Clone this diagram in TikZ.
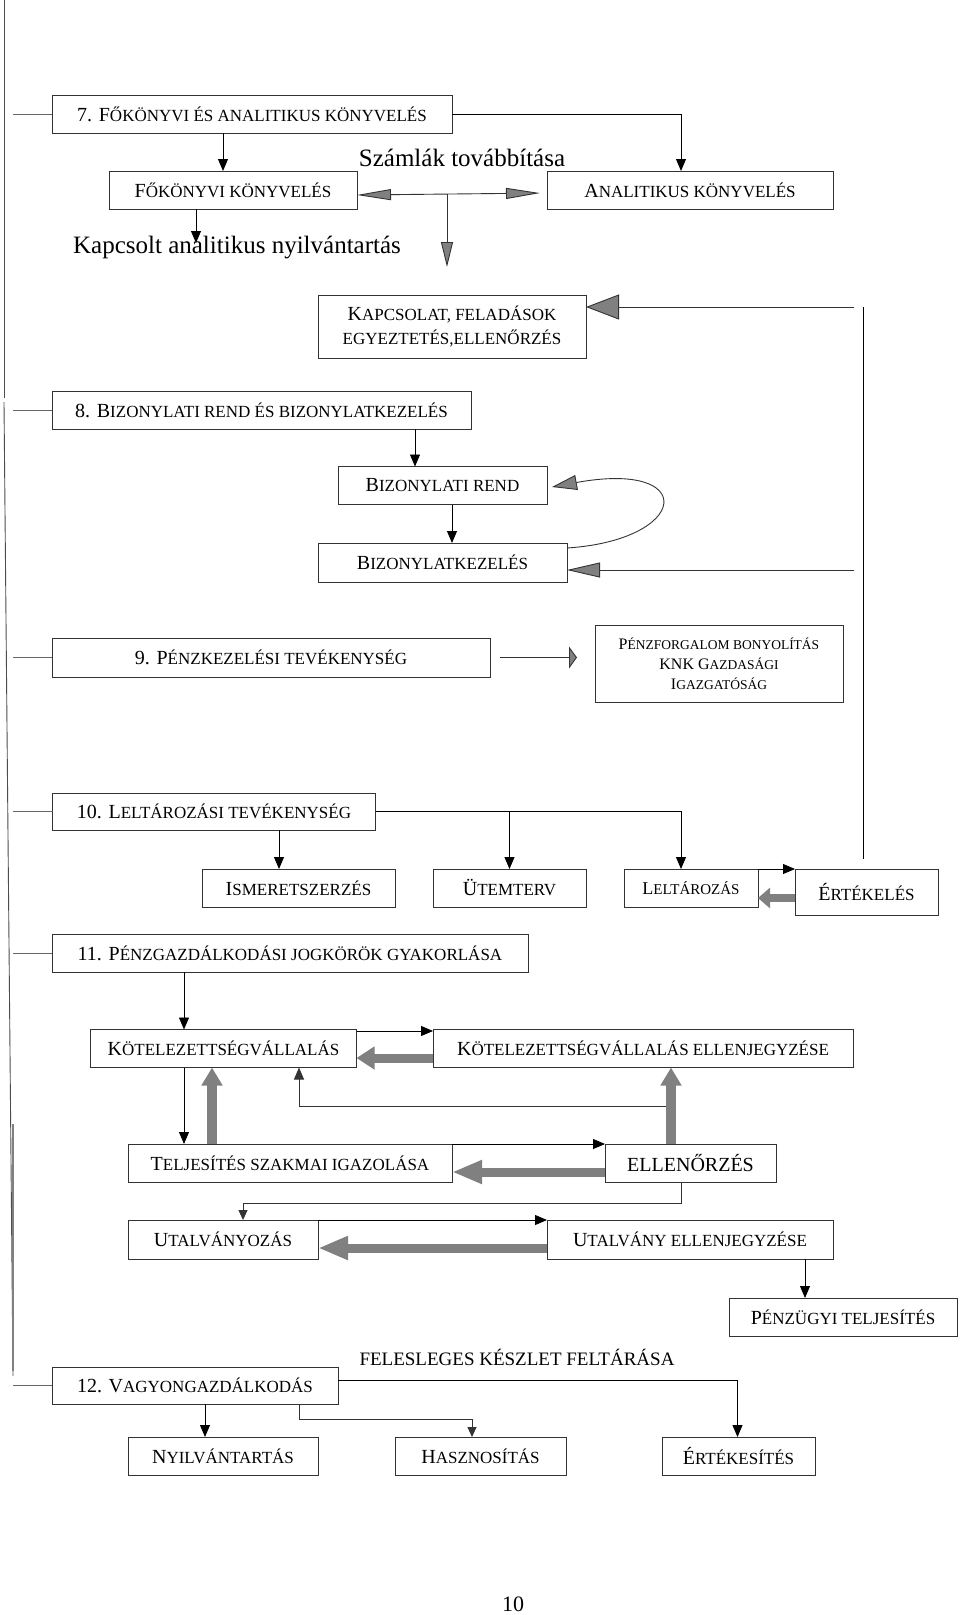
\documentclass[tikz,border=0pt]{standalone}
\usepackage{fontspec}
\setmainfont{Liberation Serif}
\usetikzlibrary{arrows.meta}

\newcommand\bigf{\fontsize{20}{24}\selectfont}
\newcommand\smf{\fontsize{17}{22}\selectfont}
% first letter big, rest as small capitals
\newcommand\capsm[2]{#1{\smf #2}}

\begin{document}
\begin{tikzpicture}[x=1pt, y=-1pt,
    box/.style={draw=black!80, line width=0.9pt, inner sep=0pt, outer sep=0pt, align=center, font=\bigf},
    arr/.style={draw=black, line width=0.9pt, -{Triangle[length=12pt,width=10pt]}},
    grayarr/.style={draw=black!80, line width=0.9pt, -{Triangle[#1,fill=gray]}},
    blockarr/.style={draw=gray, line width=9pt, -{Triangle[#1]}},
    stub/.style={draw=black!60, line width=0.9pt}]
    \useasboundingbox (0,0) rectangle (960,1615);

    %% Left margin line
    \draw [black!70, line width=0.9pt] (4,0) -- (4,398);
    \draw [black!70, line width=0.9pt] (4,402) -- (13,1376);
    \draw [gray, line width=2pt] (13,1124) -- (13,1371);

    %% 7. Fokonyvi es analitikus konyveles
    \node [box, minimum width=400, minimum height=38] (b7) at (252,114) {\capsm{7. F}{ŐKÖNYVI ÉS ANALITIKUS KÖNYVELÉS}};
    \node [box, minimum width=248, minimum height=38] (fokonyv) at (233,190) {\capsm{F}{ŐKÖNYVI KÖNYVELÉS}};
    \node [box, minimum width=286, minimum height=38] (analit) at (690,190) {\capsm{A}{NALITIKUS KÖNYVELÉS}};
    \node [box, minimum width=268, minimum height=63] (kapcs) at (452,326.5) {\capsm{K}{APCSOLAT, FELADÁSOK}\\{\smf EGYEZTETÉS,ELLENŐRZÉS}};
    \node [font=\fontsize{25}{30}\selectfont] (szamlak) at (462,158) {Számlák továbbítása};
    \node [font=\fontsize{25}{30}\selectfont] (kapcsolt) at (237,247) {Kapcsolt analitikus nyilvántartás};
    \coordinate (split) at (447,194);
    \coordinate (kin) at (854,307);
    \coordinate (bin) at (854,570);
    \coordinate (rtop) at (863,307);
    \coordinate (rbot) at (863,859);

    \draw [stub] (13,0 |- b7.west) -- (b7.west);
    \draw [arr] (223,0 |- b7.south) -- (223,0 |- fokonyv.north);
    \draw [arr] (b7.east) -| ([xshift=-9]analit.north);
    \draw [arr] (196,0 |- fokonyv.south) -- ++(0,34);
    \draw [draw=black!80, line width=0.9pt, {Triangle[length=34pt,width=11pt,fill=gray]}-{Triangle[length=34pt,width=11pt,fill=gray]}, shorten >=7pt] ([yshift=-5]fokonyv.east) -- ([yshift=-3]analit.west);
    \draw [grayarr={length=25pt,width=12pt}] (split) -- ++(0,73);
    \draw [grayarr={length=33pt,width=25pt}] (kin) -- (kapcs.east |- kin);
    \draw [line width=0.9pt] (rtop) -- (rbot);

    %% 8. Bizonylati rend
    \node [box, minimum width=419, minimum height=38] (b8) at (261.5,410) {\capsm{8. B}{IZONYLATI REND ÉS BIZONYLATKEZELÉS}};
    \node [box, minimum width=209, minimum height=38] (bizrend) at (442.5,485.5) {\capsm{B}{IZONYLATI REND}};
    \node [box, minimum width=249, minimum height=39] (bizkez) at (442.5,562.5) {\capsm{B}{IZONYLATKEZELÉS}};

    \draw [stub] (13,0 |- b8.west) -- (b8.west);
    \draw [arr] (415,0 |- b8.south) -- (415,0 |- bizrend.north);
    \draw [arr] (452,0 |- bizrend.south) -- (452,0 |- bizkez.north);
    \draw [grayarr={length=25pt,width=15pt}] ([yshift=14.5]bizkez.east) .. controls +(123,-8) and +(147,-27) .. ([xshift=5,yshift=-1.5]bizrend.east);
    \draw [grayarr={length=33pt,width=15pt}] (bin) -- (bizkez.east |- bin);

    %% 9. Penzkezeles
    \node [box, minimum width=438, minimum height=39] (b9) at (271,657.5) {\capsm{9. P}{ÉNZKEZELÉSI TEVÉKENYSÉG}};
    \node [box, minimum width=248, minimum height=77, font=\fontsize{16}{20}\selectfont] (penzforg) at (719,664)
        {P{\fontsize{13.5}{20}\selectfont ÉNZFORGALOM BONYOLÍTÁS}\\KNK G{\fontsize{13.5}{20}\selectfont AZDASÁGI}\\I{\fontsize{13.5}{20}\selectfont GAZGATÓSÁG}};

    \draw [stub] (13,0 |- b9.west) -- (b9.west);
    \draw [grayarr={length=8pt,width=22pt}, shorten <=10pt, shorten >=18pt] (b9.east) -- (penzforg.west |- b9.east);

    %% 10. Leltarozas
    \node [box, minimum width=323, minimum height=37] (b10) at (214,811.5) {\capsm{10. L}{ELTÁROZÁSI TEVÉKENYSÉG}};
    \node [box, minimum width=193, minimum height=38] (ismeret) at (298.5,888) {\capsm{I}{SMERETSZERZÉS}};
    \node [box, minimum width=153, minimum height=38] (utemterv) at (509.5,888) {\capsm{Ü}{TEMTERV}};
    \node [box, minimum width=134, minimum height=38, font=\fontsize{18}{22}\selectfont] (leltar) at (691,888) {L{\fontsize{15}{20}\selectfont ELTÁROZÁS}};
    \node [box, minimum width=143, minimum height=46] (ertekel) at (866.5,892) {\capsm{É}{RTÉKELÉS}};

    \draw [stub] (13,0 |- b10.west) -- (b10.west);
    \draw [arr] (279,0 |- b10.south) -- (279,0 |- ismeret.north);
    \draw [arr] (utemterv.north |- b10.east) -- (utemterv.north);
    \draw [arr] (b10.east) -| ([xshift=-10]leltar.north);
    \draw [arr] (leltar.north east) -- (ertekel.north west);
    \draw [blockarr={length=12pt,width=20pt}, line width=8pt] ([yshift=-6]ertekel.west) -- (leltar.east |- 0,898);

    %% 11. Penzgazdalkodasi jogkorok
    \node [box, minimum width=476, minimum height=38] (b11) at (290,953) {\capsm{11. P}{ÉNZGAZDÁLKODÁSI JOGKÖRÖK GYAKORLÁSA}};
    \node [box, minimum width=266, minimum height=38] (kotel) at (223.5,1048.5) {\capsm{K}{ÖTELEZETTSÉGVÁLLALÁS}};
    \node [box, minimum width=420, minimum height=38] (kotellen) at (643,1048.5) {\capsm{K}{ÖTELEZETTSÉGVÁLLALÁS ELLENJEGYZÉSE}};
    \node [box, minimum width=324, minimum height=38] (teljes) at (290,1163) {\capsm{T}{ELJESÍTÉS SZAKMAI IGAZOLÁSA}};
    \node [box, minimum width=171, minimum height=38] (ellen) at (690.5,1163) {ELLENŐRZÉS};
    \node [box, minimum width=190, minimum height=39] (utalv) at (223,1239.5) {\capsm{U}{TALVÁNYOZÁS}};
    \node [box, minimum width=286, minimum height=39] (utalvell) at (690,1239.5) {\capsm{U}{TALVÁNY ELLENJEGYZÉSE}};
    \node [box, minimum width=228, minimum height=38] (penzugy) at (843,1317) {\capsm{P}{ÉNZÜGYI TELJESÍTÉS}};
    \coordinate (jn) at (666,1106);

    \draw [stub] (13,0 |- b11.west) -- (b11.west);
    \draw [arr] (184,0 |- b11.south) -- (184,0 |- kotel.north);
    \draw [arr] ([yshift=-1.5]kotel.north east) -- ([yshift=-1.5]kotellen.north west);
    \draw [blockarr={length=18pt,width=22pt}] ([yshift=-9.5]kotellen.west) -- ([yshift=-9.5]kotel.east);
    \draw [arr] (184,0 |- kotel.south) -- (184,0 |- teljes.north);
    \draw [blockarr={length=18pt,width=20pt}, line width=10pt] (212,0 |- teljes.north) -- (212,0 |- kotel.south);
    \draw [arr, draw=black!80] (jn) -| (299,0 |- kotel.south);
    \draw [blockarr={length=18pt,width=20pt}, line width=10pt] (671,0 |- ellen.north) -- (671,0 |- kotellen.south);
    \draw [arr] (teljes.north east) -- (ellen.north west);
    \draw [blockarr={length=30pt,width=22pt}] ([yshift=-9]ellen.west) -- ([yshift=-9]teljes.east);
    \draw [arr, -{Triangle[length=10pt,width=9pt]}, draw=black!80] (681,0 |- ellen.south) -- ++(0,21) -| (243,0 |- utalv.north);
    \draw [arr] (utalv.north east) -- (utalvell.north west);
    \draw [blockarr={length=30pt,width=22pt}] ([yshift=-8.5]utalvell.west) -- ([yshift=-8.5]utalv.east);
    \draw [arr] (805,0 |- utalvell.south) -- (805,0 |- penzugy.north);

    %% 12. Vagyongazdalkodas
    \node [font=\fontsize{19}{24}\selectfont] (felesl) at (517,1357) {FELESLEGES KÉSZLET FELTÁRÁSA};
    \node [box, minimum width=286, minimum height=37] (b12) at (195,1385.5) {\capsm{12. V}{AGYONGAZDÁLKODÁS}};
    \node [box, minimum width=190, minimum height=38] (nyilv) at (223,1456) {\capsm{N}{YILVÁNTARTÁS}};
    \node [box, minimum width=171, minimum height=38] (haszn) at (480.5,1456) {\capsm{H}{ASZNOSÍTÁS}};
    \node [box, minimum width=153, minimum height=38] (ertekes) at (738.5,1456) {\capsm{É}{RTÉKESÍTÉS}};

    \draw [stub] (13,0 |- b12.west) -- (b12.west);
    \draw [arr] (205,0 |- b12.south) -- (205,0 |- nyilv.north);
    \draw [arr, -{Triangle[length=10pt,width=9pt]}, draw=black!80] (299,0 |- b12.south) -- ++(0,15) -| (472,0 |- haszn.north);
    \draw [arr] ([yshift=5]b12.east) -| (737.5,0 |- ertekes.north);

    % page number
    \node [font=\fontsize{22}{26}\selectfont] (page) at (513,1604) {10};
\end{tikzpicture}
\end{document}
